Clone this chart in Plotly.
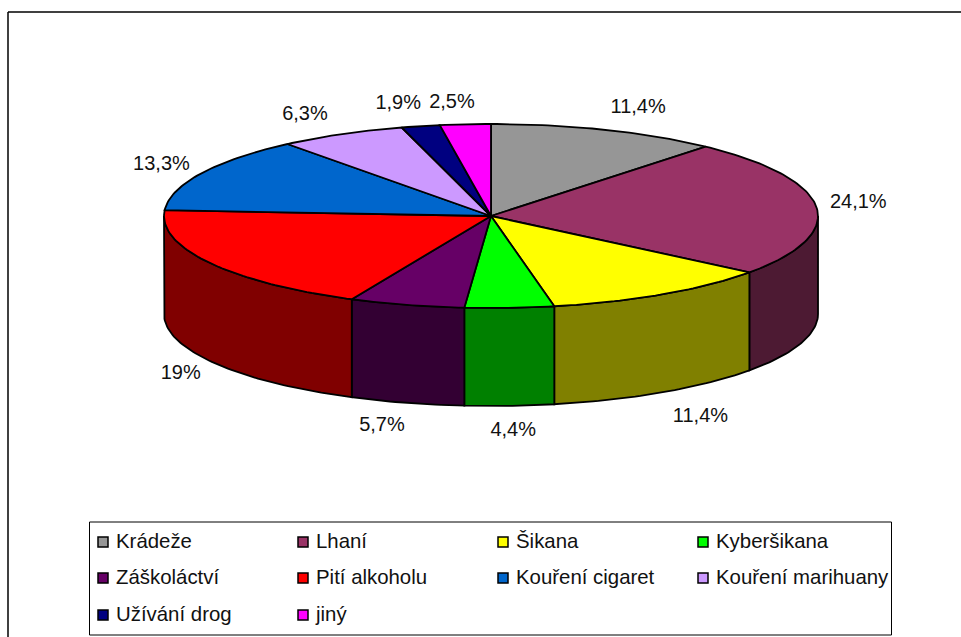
import math
import plotly.graph_objects as go

# Data
categories = ["Krádeže", "Lhaní", "Šikana", "Kyberšikana", "Záškoláctví",
              "Pití alkoholu", "Kouření cigaret", "Kouření marihuany",
              "Užívání drog", "jiný"]
values = [11.4, 24.1, 11.4, 4.4, 5.7, 19, 13.3, 6.3, 1.9, 2.5]

# Styles
top_colors = ["#969696", "#993366", "#ffff00", "#00ff00", "#660066",
              "#ff0000", "#0066cc", "#cc99ff", "#000080", "#ff00ff"]
side_colors = ["#4b4b4b", "#4d1a33", "#808000", "#008000", "#330033",
               "#800000", "#003366", "#664c80", "#000040", "#800080"]
label_offsets = [(22, -5), (12, -2), (22, 9), (2, 7), (-17, 6),
                 (-3, 4), (-13, 0), (-23, -3), (-16, -5), (-11, -3)]

CX, CY, RX, RY, DEPTH = 491, 216, 327, 92, 98
FONT = "Liberation Sans, Arial, sans-serif"
OUTLINE = dict(color="black", width=1.8)


def pt(theta, dy=0.0):
    return CX + RX * math.sin(theta), CY - RY * math.cos(theta) + dy


def arc(a, b, dy=0.0, step=math.radians(1)):
    n = max(2, int(abs(b - a) / step) + 1)
    return [pt(a + (b - a) * i / (n - 1), dy) for i in range(n)]


fig = go.Figure()
total = sum(values)
angles = [0.0]
for v in values:
    angles.append(angles[-1] + v / total * 2 * math.pi)

# Outer walls (only the front half, pi/2 .. 3pi/2, is visible)
for i in range(len(values)):
    a = max(angles[i], math.pi / 2)
    b = min(angles[i + 1], 3 * math.pi / 2)
    if b > a:
        pts = arc(a, b) + arc(b, a, DEPTH)
        pts.append(pts[0])
        fig.add_trace(go.Scatter(x=[p[0] for p in pts], y=[p[1] for p in pts],
                                 mode="lines", fill="toself",
                                 fillcolor=side_colors[i], line=OUTLINE,
                                 hoverinfo="skip", showlegend=False))

# Top slices
for i in range(len(values)):
    pts = [(CX, CY)] + arc(angles[i], angles[i + 1]) + [(CX, CY)]
    fig.add_trace(go.Scatter(x=[p[0] for p in pts], y=[p[1] for p in pts],
                             mode="lines", fill="toself",
                             fillcolor=top_colors[i], line=OUTLINE,
                             name=categories[i], hoverinfo="name", showlegend=False))

# Percent labels
lx, ly, lt = [], [], []
for i, v in enumerate(values):
    mid = (angles[i] + angles[i + 1]) / 2
    front = DEPTH if math.cos(mid) < 0 else 0
    lx.append(CX + (RX + 30) * math.sin(mid) + label_offsets[i][0])
    ly.append(CY - (RY + 18) * math.cos(mid) + front + label_offsets[i][1])
    lt.append(f"{v:g}%".replace(".", ","))
fig.add_trace(go.Scatter(x=lx, y=ly, text=lt, mode="text", textposition="middle center",
                         textfont=dict(family=FONT, size=20, color="#111111"),
                         hoverinfo="skip", showlegend=False))

# Legend grid
COLS = [103, 303, 503, 703]
ROWS = [542, 578, 615]
sx = [COLS[i % 4] for i in range(len(categories))]
sy = [ROWS[i // 4] for i in range(len(categories))]
fig.add_trace(go.Scatter(x=sx, y=sy, mode="markers",
                         marker=dict(symbol="square", size=10, color=top_colors,
                                     line=dict(color="black", width=1.5)),
                         hoverinfo="skip", showlegend=False))
fig.add_trace(go.Scatter(x=[x + 13 for x in sx], y=[y + 1 for y in sy],
                         text=categories, mode="text", textposition="middle right",
                         textfont=dict(family=FONT, size=20.4, color="#111111"),
                         hoverinfo="skip", showlegend=False))

fig.update_layout(
    width=961, height=637, autosize=False,
    margin=dict(l=0, r=0, t=0, b=0),
    paper_bgcolor="white", plot_bgcolor="white",
    showlegend=False,
    xaxis=dict(range=[0, 961], visible=False, fixedrange=True),
    yaxis=dict(range=[637, 0], visible=False, fixedrange=True),
    shapes=[
        dict(type="line", x0=8, y0=12, x1=961, y1=12,
             line=dict(color="black", width=1.5), layer="below"),
        dict(type="line", x0=8, y0=12, x1=8, y1=637,
             line=dict(color="black", width=1.5), layer="below"),
        dict(type="rect", x0=89.5, y0=522, x1=891.5, y1=635,
             line=dict(color="black", width=1), layer="below"),
    ],
)
fig.write_html("out.html", config={"displayModeBar": False},
               post_script="document.body.style.margin='0';document.body.style.overflow='hidden';")
